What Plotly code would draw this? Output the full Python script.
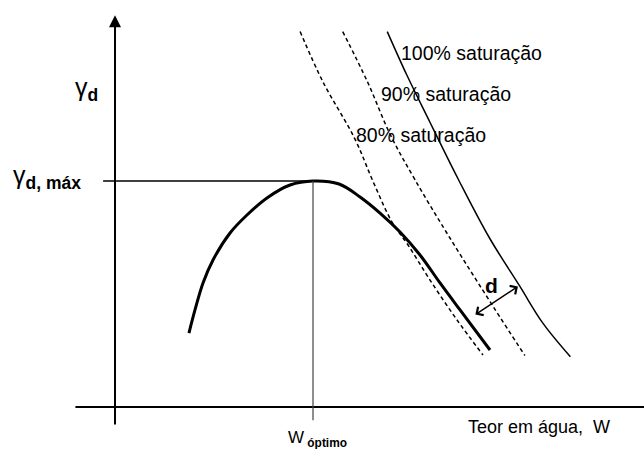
import plotly.graph_objects as go

# ---- data (schematic units: w = water content, g = dry unit weight) ----
w_opt = 20.0
g_max = 18.0

curve_w = [7.47, 8.08, 8.89, 9.90, 11.62, 13.33, 15.35, 17.68, 20.0, 22.63, 24.75, 26.77, 28.79, 30.81, 32.83, 34.85, 37.88]
curve_g = [5.89, 7.73, 9.88, 11.71, 13.86, 15.29, 16.65, 17.68, 18.0, 17.76, 16.73, 15.45, 13.94, 12.11, 9.88, 7.73, 4.54]

s80_w = [18.7, 21.0, 24.2, 26.1, 27.98, 29.60, 31.82, 34.55, 37.17]
s80_g = [29.9, 25.9, 21.4, 17.9, 14.73, 12.90, 10.11, 6.93, 4.14]

s90_w = [23.0, 25.5, 27.8, 30.3, 33.8, 38.2, 41.4]
s90_g = [29.9, 25.9, 21.7, 18.1, 13.5, 8.0, 4.1]

s100_w = [27.5, 29.5, 31.8, 33.8, 34.7, 37.8, 40.9, 43.2, 46.0]
s100_g = [29.9, 26.4, 22.7, 19.5, 18.1, 13.5, 9.6, 6.7, 4.0]

sat_labels = ["100% saturação", "90% saturação", "80% saturação"]
sat_label_w = [28.7, 26.7, 24.1]
sat_label_g = [28.2, 24.9, 21.7]

d_from = (36.1, 7.2)
d_to = (40.7, 9.6)

# axis extents
x_range = [-11.616, 53.434]
y_range = [-3.345, 32.415]
yaxis_bottom, yaxis_top = -2.2, 31.2
xaxis_left = -4.0

FONT = "Liberation Sans"

fig = go.Figure()

fig.add_trace(go.Scatter(x=s80_w, y=s80_g, mode="lines", line=dict(color="black", width=1.5, dash="4px,3px", shape="spline"), hoverinfo="skip"))
fig.add_trace(go.Scatter(x=s90_w, y=s90_g, mode="lines", line=dict(color="black", width=1.5, dash="4px,3px", shape="spline"), hoverinfo="skip"))
fig.add_trace(go.Scatter(x=s100_w, y=s100_g, mode="lines", line=dict(color="black", width=1.5, shape="spline"), hoverinfo="skip"))
fig.add_trace(go.Scatter(x=curve_w, y=curve_g, mode="lines", line=dict(color="black", width=3, shape="spline", smoothing=1.0), hoverinfo="skip"))

shapes = [
    # x axis
    dict(type="line", x0=xaxis_left, x1=x_range[1], y0=0, y1=0, line=dict(color="black", width=2)),
    # gamma max line
    dict(type="line", x0=-1.2, x1=w_opt, y0=g_max, y1=g_max, line=dict(color="black", width=1.5)),
    # w optimum line
    dict(type="line", x0=w_opt, x1=w_opt, y0=g_max, y1=-1.05, line=dict(color="#444", width=1.2)),
]

annotations = [
    # y axis with arrow
    dict(x=0, y=yaxis_top, ax=0, ay=yaxis_bottom, xref="x", yref="y", axref="x", ayref="y",
         showarrow=True, arrowhead=2, arrowsize=1.2, arrowwidth=2, arrowcolor="black", text=" "),
    # d double arrow
    dict(x=d_to[0], y=d_to[1], ax=d_from[0], ay=d_from[1], xref="x", yref="y", axref="x", ayref="y",
         showarrow=True, arrowhead=4, startarrowhead=4, arrowside="end+start", arrowsize=1.3,
         startarrowsize=1.3, arrowwidth=1.5, arrowcolor="black", text=" "),
    dict(x=38.0, y=9.7, text="<b>d</b>", showarrow=False, font=dict(size=21, color="black", family=FONT)),
    dict(x=-1.5, y=25.35, text="γ<sub><b>d</b></sub>", showarrow=False, xanchor="right", yanchor="middle",
         font=dict(size=25, color="black", family=FONT)),
    dict(x=-3.2, y=18.35, text="γ<sub><b>d, máx</b></sub>", showarrow=False, xanchor="right", yanchor="middle",
         font=dict(size=25, color="black", family=FONT)),
    dict(x=35.5, y=-1.6, text="Teor em água,  W", showarrow=False, xanchor="left", yanchor="middle",
         font=dict(size=18, color="black", family=FONT)),
    dict(x=17.3, y=-2.55, text="W<sub><b> óptimo</b></sub>", showarrow=False, xanchor="left", yanchor="middle",
         font=dict(size=17, color="black", family=FONT)),
]
for t, lx, ly in zip(sat_labels, sat_label_w, sat_label_g):
    annotations.append(dict(x=lx, y=ly, text=t, showarrow=False, xanchor="left", yanchor="middle",
                            font=dict(size=19.5, color="black", family=FONT)))

fig.update_layout(
    width=644, height=449,
    margin=dict(l=0, r=0, t=0, b=0),
    paper_bgcolor="white", plot_bgcolor="white",
    showlegend=False,
    xaxis=dict(range=x_range, visible=False, fixedrange=True),
    yaxis=dict(range=y_range, visible=False, fixedrange=True),
    shapes=shapes,
    annotations=annotations,
)

fig.write_html("out.html", config={"displayModeBar": False},
               post_script="document.body.style.margin='0';document.body.style.padding='0';")
